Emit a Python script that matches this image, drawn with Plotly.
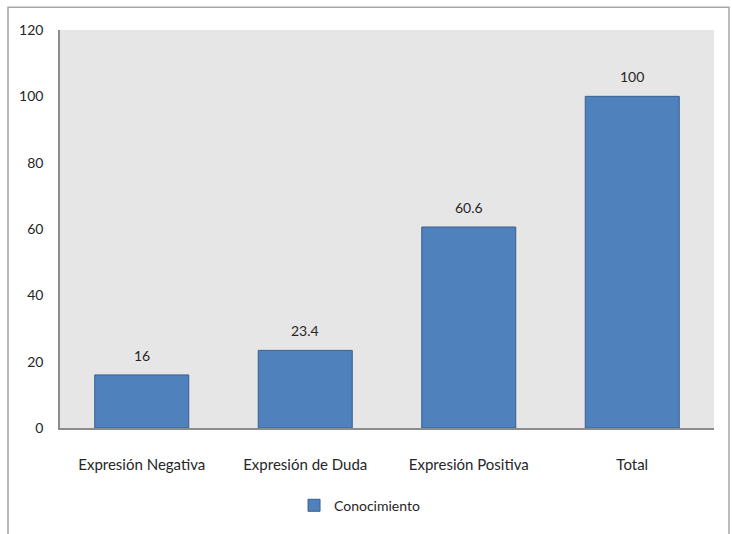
import plotly.graph_objects as go

categories = ["Expresión Negativa", "Expresión de Duda", "Expresión Positiva", "Total"]
values = [16, 23.4, 60.6, 100]
value_labels = ["16", "23.4", "60.6", "100"]
series_name = "Conocimiento"
y_ticks = [0, 20, 40, 60, 80, 100, 120]

FONT = "Lato"
TXT = "#262626"

fig = go.Figure()
fig.add_trace(go.Bar(
    x=categories, y=values, name=series_name,
    marker=dict(color="#4f81bd", line=dict(color="#3a5f8c", width=1)),
    width=0.575, showlegend=True,
))

for c, v, t in zip(categories, values, value_labels):
    fig.add_annotation(x=c, y=v, text=t, showarrow=False, yanchor="bottom",
                       yshift=9, font=dict(family=FONT, size=14, color=TXT))

fig.add_shape(type="rect", xref="paper", yref="paper",
              x0=-0.0795, x1=1.0229, y0=-0.5, y1=1.057,
              line=dict(color="#a6a6a6", width=1.5), layer="below")

fig.update_layout(
    width=732, height=534,
    margin=dict(l=60, r=18, t=30, b=101),
    paper_bgcolor="white",
    plot_bgcolor="#e6e6e6",
    font=dict(family=FONT, size=14, color=TXT),
    xaxis=dict(showline=True, linecolor="#8c8c8c", linewidth=1.5, ticks="",
               ticklabelstandoff=22,
               tickfont=dict(family=FONT, size=15, color=TXT), showgrid=False),
    yaxis=dict(range=[0, 120], tickvals=y_ticks, showline=True, linecolor="#8c8c8c",
               linewidth=1.5, showgrid=False, zeroline=False, ticks="",
               ticklabelstandoff=12,
               ticklen=0, tickfont=dict(family=FONT, size=14, color=TXT)),
    legend=dict(orientation="h", x=0.458, xanchor="center", y=-0.155, yanchor="top",
                font=dict(family=FONT, size=14, color=TXT), itemwidth=30),
)

fig.write_html("out.html")
